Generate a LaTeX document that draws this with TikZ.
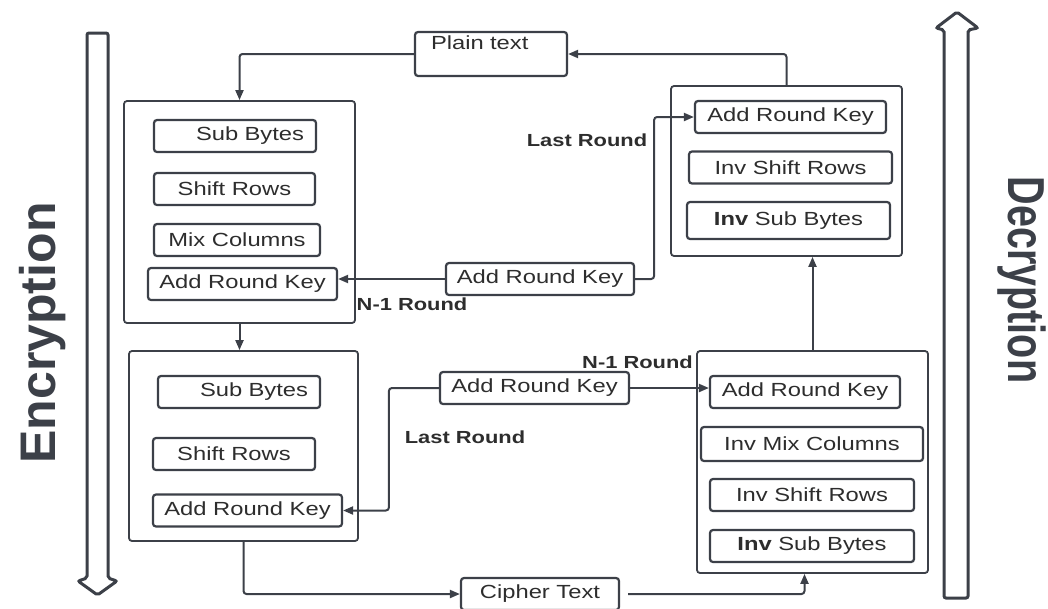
\documentclass[tikz,border=0pt]{standalone}
\usepackage{fontspec}
\setmainfont{Liberation Sans}[FakeStretch=1.25]
\newfontfamily\sidefont{Liberation Sans}[FakeStretch=0.76]
\newfontfamily\plainfont{Liberation Sans}
\usetikzlibrary{arrows.meta}
\usetikzlibrary{positioning}
\definecolor{ink}{RGB}{60,64,72}
\definecolor{txt}{RGB}{45,45,45}
\newcommand{\snode}[4]{\node(#1)[item,minimum width=#3] at (#2) {#4}}
\newcommand{\bnode}[4]{\node(#1)[round,minimum width=#3,minimum height=#4] at (#2) {}}

\begin{document}
\begin{tikzpicture}[
        x=1pt, y=-1pt,
        every node/.style={font=\fontsize{19}{22}\selectfont, text=txt},
        item/.style={rectangle,minimum height=32pt,inner sep=0pt,
                     rounded corners=3pt,line width=2.2pt,draw=ink,fill=white},
        round/.style={rectangle,inner sep=0pt,rounded corners=3pt,
                      line width=1.8pt,draw=ink,fill=white},
        rtext/.style={text width=138pt,align=right,inner xsep=12pt},
        note/.style={font=\fontsize{17.5}{20}\selectfont\bfseries},
        side/.style={font={\sidefont\bfseries\fontsize{52}{60}\selectfont},text=ink},
        wide/.style={font={\plainfont\bfseries\fontsize{50}{60}\selectfont},text=ink},
        link/.style={draw=ink,line width=2pt,rounded corners=3pt,
                     -{Triangle[length=10pt,width=8pt]}},
        bigarrow/.style={draw=ink,line width=3pt,rounded corners=2pt,fill=white}
      ]
      \useasboundingbox (0,0) rectangle (1048,608);
      \clip (0,0) rectangle (1048,608);

      \draw[bigarrow] (87,578) -- (87,33) -- (108,33) -- (108,578) -- (117,581)
                      -- (97.5,595) -- (78,581) -- cycle;
      \draw[bigarrow] (944,598) -- (944,30) -- (936,28) -- (957,12) -- (978,28)
                      -- (968,30) -- (968,598) -- cycle;
      \node(enc)[wide,rotate=90] at (43,333) {Encryption};
      \node(dec)[side,rotate=-90] at (1022,280) {Decryption};

      \node(plain)[item,text width=120pt,align=left,inner xsep=16pt,inner ysep=5pt,
                   text height=12pt,text depth=22pt] at (491,54) {Plain text};

      \bnode{encA}{239.5,212}{231pt}{222pt};
      \node(encAsub)[item,rtext] at (235,136) {Sub Bytes};
      \snode{encAshift}{234.5,189}{161pt}{Shift Rows};
      \snode{encAmix}{237,240}{166pt}{Mix Columns};
      \snode{encAkey}{242.5,284}{189pt}{Add Round Key};

      \bnode{encB}{243.5,446}{229pt}{190pt};
      \node(encBsub)[item,rtext] at (239,392) {Sub Bytes};
      \snode{encBshift}{234,454}{162pt}{Shift Rows};
      \snode{encBkey}{247.5,510.5}{189pt}{Add Round Key};

      \bnode{decA}{786.5,171}{231pt}{170pt};
      \snode{decAkey}{790.5,117}{191pt}{Add Round Key};
      \snode{decAshift}{790.5,167.5}{203pt}{Inv Shift Rows};
      \node(decAsub)[item,minimum width=203pt,minimum height=37pt] at (788.5,220.5)
                    {{\bfseries Inv} Sub Bytes};

      \bnode{decB}{812.5,462}{231pt}{222pt};
      \snode{decBkey}{805,392}{190pt}{Add Round Key};
      \node(decBmix)[item,minimum width=222pt,minimum height=34pt] at (812,444)
                    {Inv Mix Columns};
      \snode{decBshift}{812,495}{204pt}{Inv Shift Rows};
      \snode{decBsub}{812,546}{204pt}{{\bfseries Inv} Sub Bytes};

      \snode{keyA}{540,279}{188pt}{Add Round Key};
      \snode{keyB}{534.5,388}{189pt}{Add Round Key};
      \snode{cipher}{540,594}{158pt}{Cipher Text};

      \node(lastA)[note] at (587,140) {Last Round};
      \node(roundA)[note] at (412,304) {N-1 Round};
      \node(roundB)[note] at (637.5,362) {N-1 Round};
      \node(lastB)[note] at (465,437) {Last Round};

      \coordinate (decBin) at ([xshift=-8pt]decB.south);
      \draw[link] (decA.north) |- (plain.east);
      \draw[link] (plain.west) -| (encA.north);
      \draw[link] (encA.south) -- (encA.south |- encB.north);
      \draw[link] (encB.south) |- (cipher.west);
      \draw[link,shorten <=8pt] (cipher.east) -| (decBin);
      \draw[link] (decB.north) -- (decB.north |- decA.south);
      \draw[link] (keyA.west) -- (keyA.west -| encAkey.east);
      \draw[link] (keyA.east) -- ++(19,0) |- (decAkey.west);
      \draw[link] (keyB.west) -- ++(-50,0) |- (encBkey.east);
      \draw[link] (keyB.east) -- (keyB.east -| decBkey.west);
\end{tikzpicture}
\end{document}
